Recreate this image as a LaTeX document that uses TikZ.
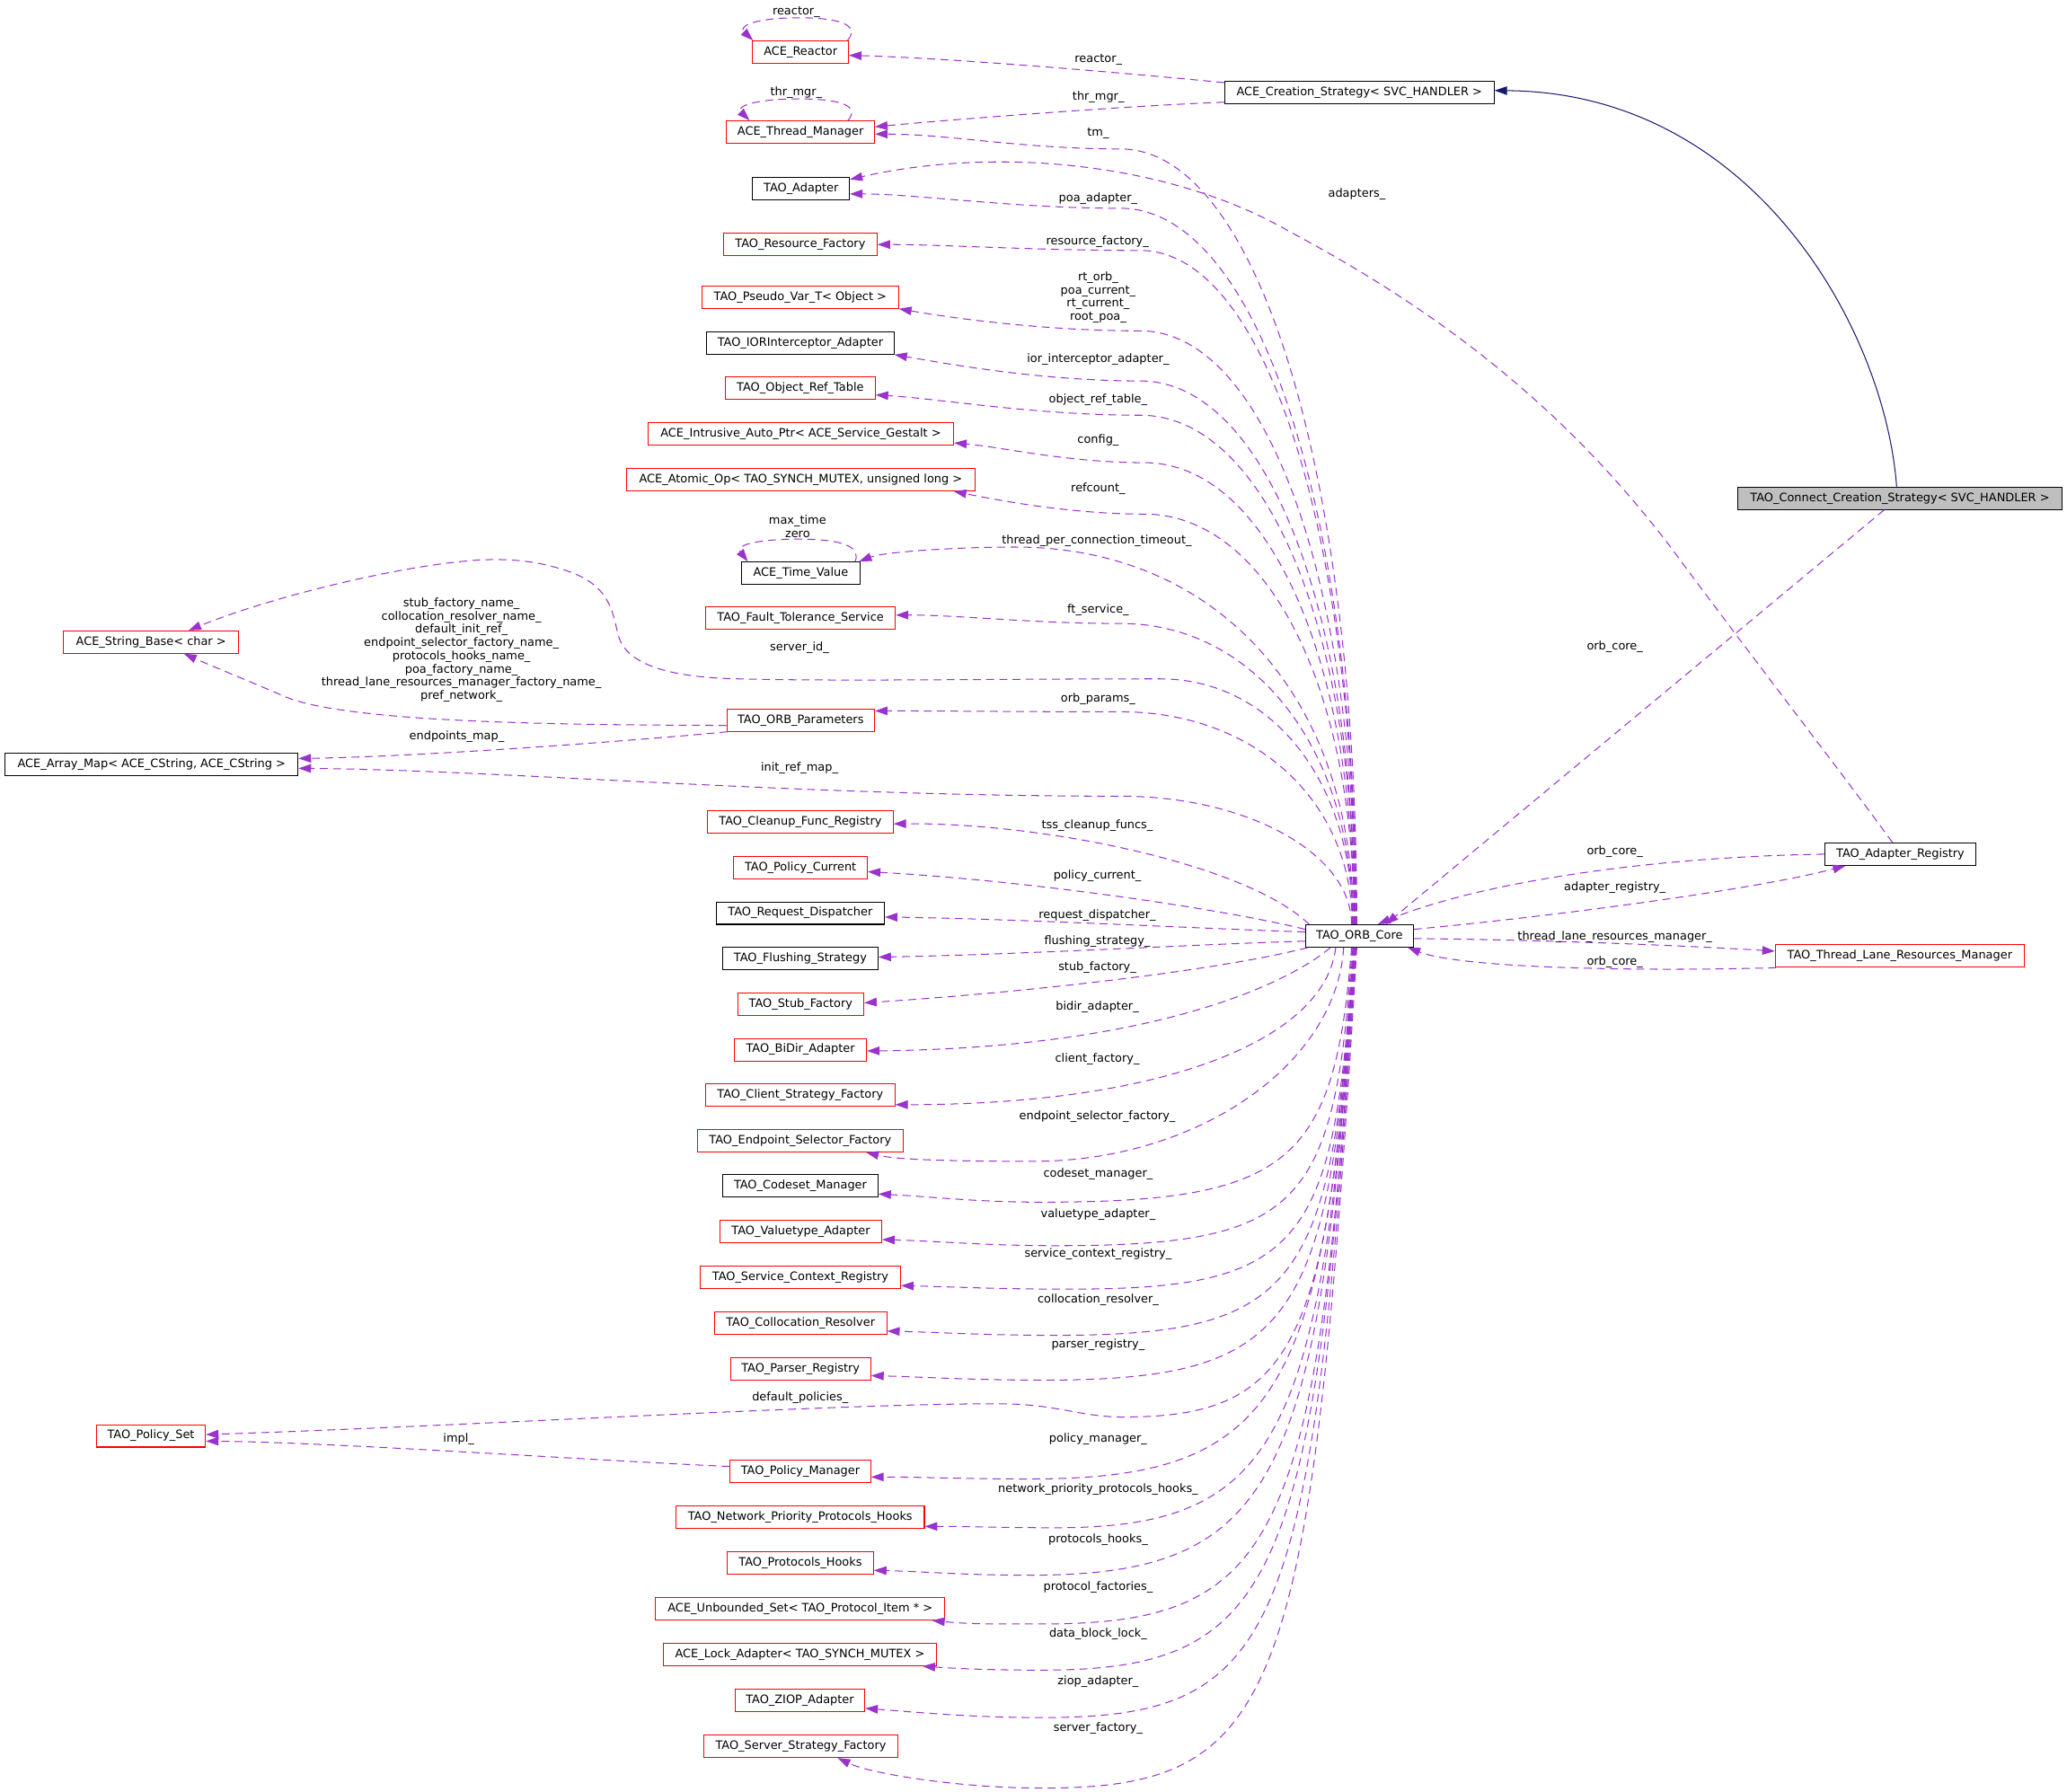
\documentclass[tikz,border=0pt]{standalone}
\usepackage{fontspec}
\setmainfont{DejaVu Sans}
\usetikzlibrary{arrows.meta,calc}
\definecolor{edgep}{HTML}{9A32CD}
\definecolor{inhc}{HTML}{191970}
\definecolor{clsred}{HTML}{FF0000}
\definecolor{grayf}{HTML}{BFBFBF}
% #1 anchor, #2 offset, #3 arm point L, #4 boxiness k, #5 slant, #6 control near E, #7 end E
\newcommand\dfan[7]{%
  \coordinate (fS) at ($(#1)+(#2,0)$);
  \coordinate (fL) at #3;
  \coordinate (fK) at ($(fS|-fL)+(-#5,0)$);
  \coordinate (fE) at #7;
  \draw[uses] (fS) .. controls ($(fS)!#4!(fK)$) and ($(fL)!#4!(fK)$) .. (fL)
     .. controls ($(fL)!0.4!(fL-|fE)$) and #6 .. (fE);
}
\begin{document}
\begin{tikzpicture}[x=1pt,y=-1pt,
  cls/.style={draw=black, line width=0.7pt, minimum height=17pt, inner xsep=2pt, inner ysep=0pt,
     text height=6.6pt, text depth=2pt, font=\fontsize{8.8}{10}\selectfont},
  redc/.style={cls, draw=clsred},
  uses/.style={draw=edgep, line width=0.7pt, dash pattern=on 6pt off 4pt,
     -{Triangle[length=9.5pt,width=6.5pt]}},
  inh/.style={draw=inhc, line width=0.7pt, -{Triangle[length=9.5pt,width=6.5pt]}},
  lbl/.style={inner sep=0pt, font=\fontsize{8.8}{10}\selectfont, text height=6.6pt, text depth=2pt},
  lblm/.style={inner sep=0pt, align=center, font=\fontsize{8.8}{10}\selectfont}
]
\fill[white] (0,0) rectangle (1568,1359);
\useasboundingbox (0,0) rectangle (1568,1359);

% ---------- nodes ----------
\node[redc, minimum width=72.6pt] (reactor) at (607.3,39.5) {ACE\_Reactor};
\node[redc, minimum width=112.3pt] (tmgr) at (607.25,100.2) {ACE\_Thread\_Manager};
\node[cls, minimum width=73.4pt] (tadapter) at (607.7,143.1) {TAO\_Adapter};
\node[redc, minimum width=116.4pt] (resf) at (607.1,185.5) {TAO\_Resource\_Factory};
\node[redc, minimum width=149.1pt] (pseudo) at (607.05,225.4) {TAO\_Pseudo\_Var\_T< Object >};
\node[cls, minimum width=142.2pt] (ior) at (607.1,260.2) {TAO\_IORInterceptor\_Adapter};
\node[redc, minimum width=113.6pt] (objref) at (607.1,294.6) {TAO\_Object\_Ref\_Table};
\node[redc, minimum width=231.9pt] (intr) at (607.45,329) {ACE\_Intrusive\_Auto\_Ptr< ACE\_Service\_Gestalt >};
\node[redc, minimum width=264.5pt] (atomic) at (607.45,363.9) {ACE\_Atomic\_Op< TAO\_SYNCH\_MUTEX, unsigned long >};
\node[cls, minimum width=89.9pt] (timev) at (607.45,434.8) {ACE\_Time\_Value};
\node[redc, minimum width=143.9pt] (fts) at (607.25,468.6) {TAO\_Fault\_Tolerance\_Service};
\node[redc, minimum width=132.6pt] (strb) at (114.6,487.1) {ACE\_String\_Base< char >};
\node[redc, minimum width=112.1pt] (orbp) at (607.35,546.3) {TAO\_ORB\_Parameters};
\node[cls, minimum width=222.2pt] (amap) at (115,579.9) {ACE\_Array\_Map< ACE\_CString, ACE\_CString >};
\node[redc, minimum width=140.8pt] (cleanup) at (607.1,623.5) {TAO\_Cleanup\_Func\_Registry};
\node[redc, minimum width=101.5pt] (polcur) at (607.25,658.3) {TAO\_Policy\_Current};
\node[cls, minimum width=127.6pt] (reqd) at (607.1,692.7) {TAO\_Request\_Dispatcher};
\node[cls, minimum width=117.8pt] (flush) at (607.1,727.1) {TAO\_Flushing\_Strategy};
\node[redc, minimum width=95.6pt] (stub) at (607.4,761.8) {TAO\_Stub\_Factory};
\node[redc, minimum width=100.1pt] (bidir) at (607.25,796.3) {TAO\_BiDir\_Adapter};
\node[redc, minimum width=143.5pt] (clientf) at (607.05,830.7) {TAO\_Client\_Strategy\_Factory};
\node[redc, minimum width=156.1pt] (endpf) at (607.05,865.4) {TAO\_Endpoint\_Selector\_Factory};
\node[cls, minimum width=117.7pt] (codeset) at (607.15,899.8) {TAO\_Codeset\_Manager};
\node[redc, minimum width=122.6pt] (valt) at (607.5,934.4) {TAO\_Valuetype\_Adapter};
\node[redc, minimum width=151.9pt] (servc) at (607.15,969.3) {TAO\_Service\_Context\_Registry};
\node[redc, minimum width=130.6pt] (colres) at (607.3,1003.8) {TAO\_Collocation\_Resolver};
\node[redc, minimum width=106.4pt] (parser) at (607.3,1038.6) {TAO\_Parser\_Registry};
\node[redc, minimum width=82.8pt] (polset) at (114.5,1089.3) {TAO\_Policy\_Set};
\node[redc, minimum width=106.7pt] (polman) at (607.15,1116.5) {TAO\_Policy\_Manager};
\node[redc, minimum width=188.4pt] (netp) at (607,1151) {TAO\_Network\_Priority\_Protocols\_Hooks};
\node[redc, minimum width=110.9pt] (proth) at (607.15,1185.8) {TAO\_Protocols\_Hooks};
\node[redc, minimum width=219.6pt] (unbset) at (607,1220.5) {ACE\_Unbounded\_Set< TAO\_Protocol\_Item * >};
\node[redc, minimum width=207.4pt] (lockad) at (606.8,1255.2) {ACE\_Lock\_Adapter< TAO\_SYNCH\_MUTEX >};
\node[redc, minimum width=98.4pt] (ziop) at (606.8,1290) {TAO\_ZIOP\_Adapter};
\node[redc, minimum width=147pt] (servf) at (607.5,1324.8) {TAO\_Server\_Strategy\_Factory};
\node[cls, minimum width=204.4pt] (creation) at (1031.2,70.2) {ACE\_Creation\_Strategy< SVC\_HANDLER >};
\node[cls, fill=grayf, minimum width=245.7pt] (connect) at (1441.25,378) {TAO\_Connect\_Creation\_Strategy< SVC\_HANDLER >};
\node[cls, minimum width=81.7pt] (core) at (1031.25,710) {TAO\_ORB\_Core};
\node[cls, minimum width=114.6pt] (reg) at (1441.6,648) {TAO\_Adapter\_Registry};
\node[redc, minimum width=188.9pt] (tlrm) at (1441.15,725.3) {TAO\_Thread\_Lane\_Resources\_Manager};

% ---------- inheritance ----------
\draw[inh] ($(connect.north)+(-2.5,0)$) .. controls (1430,250) and (1330,70) .. ($(creation.east)+(0,-1.5)$);

% ---------- edges from ACE_Creation_Strategy ----------
\draw[uses] ($(creation.west)+(0,-7.5)$) .. controls (850,55) and (720,44) .. ($(reactor.east)+(0,2.5)$);
\draw[uses] ($(creation.south west)+(0,-1.5)$) .. controls (860,80) and (730,90) .. ($(tmgr.east)+(0,-4)$);

% ---------- self loops ----------
\draw[uses] ($(reactor.north east)+(-1,0)$) .. controls (652,20) and (640,13.5) .. (606,13.5)
   .. controls (572,13.5) and (560,20) .. ($(reactor.north west)+(0.5,0)$);
\draw[uses] ($(tmgr.north east)+(-20.4,0)$) .. controls (652,81) and (640,75) .. (606,75)
   .. controls (572,75) and (558,81) .. ($(tmgr.north west)+(17.9,0)$);
\draw[uses] ($(timev.north east)+(-4,0)$) .. controls (653,415) and (640,409) .. (606,409)
   .. controls (572,409) and (558,414) .. ($(timev.north west)+(5.1,0)$);

% ---------- adapters_ ----------
\draw[uses] ($(reg.north)+(-6,0)$) .. controls (1400,590) and (1330,500) .. (1268,416)
   .. controls (1180,300) and (1080,230) .. (977,175)
   .. controls (890,125) and (760,110) .. ($(tadapter.east)+(0,-7)$);

% ---------- upper fan from TAO_ORB_Core ----------
\dfan{core.north}{-2}{(850,113)}{0.58}{0}{($(fE)+(55,0)$)}{($(tmgr.east)+(0,1.5)$)}
\dfan{core.north}{-2.5}{(850,158)}{0.58}{0}{($(fE)+(50,0)$)}{($(tadapter.east)+(0,4)$)}
\dfan{core.north}{-3}{(865,190)}{0.58}{0}{($(fE)+(50,0)$)}{(resf.east)}
\dfan{core.north}{-3}{(865,251)}{0.58}{0}{($(fE)+(40,7)$)}{(pseudo.south east)}
\dfan{core.north}{-3.5}{(865,289)}{0.58}{0}{($(fE)+(40,7)$)}{(ior.south east)}
\dfan{core.north}{-3.5}{(865,315)}{0.58}{0}{($(fE)+(50,3)$)}{($(objref.east)+(0,5)$)}
\dfan{core.north}{-4}{(868,351)}{0.58}{0}{($(fE)+(35,3)$)}{($(intr.east)+(0,7)$)}
\dfan{core.north}{-4}{(868,390)}{0.58}{0}{($(fE)+(30,6)$)}{($(atomic.south east)+(-16.5,0)$)}
\dfan{core.north}{-4.5}{(770,415)}{0.6}{0}{($(fE)+(18,-7)$)}{($(timev.north east)+(-1,0)$)}
\dfan{core.north}{-5}{(850,473)}{0.58}{0}{($(fE)+(50,0)$)}{($(fts.east)+(0,-2)$)}
\draw[uses] ($(core.north)+(-5,0)$) .. controls (1026.25,593) and (965,515) .. (880,515)
   .. controls (750,515) and (640,517) .. (560,515)
   .. controls (510,514) and (478,505) .. (470,485)
   .. controls (465,470) and (466,450) .. (440,437)
   .. controls (415,426) and (385,422) .. (350,426)
   .. controls (290,432) and (200,455) .. ($(strb.north)+(28.5,0)$);
\dfan{core.north}{-5.5}{(850,540)}{0.58}{0}{($(fE)+(50,0)$)}{($(orbp.east)+(0,-7)$)}
\dfan{core.north}{-6}{(850,604)}{0.55}{0}{($(fE)+(150,1)$)}{($(amap.east)+(0,3)$)}

% ---------- edges at the left side of TAO_ORB_Core ----------
\draw[uses] ($(core.north west)+(3,0)$) .. controls (945,655) and (790,624) .. ($(cleanup.east)+(0,1.5)$);
\draw[uses] ($(core.west)+(0,-5)$) .. controls (930,690) and (780,668) .. ($(polcur.east)+(0,3)$);
\draw[uses] ($(core.west)+(0,-3)$) .. controls (900,704) and (770,697) .. ($(reqd.east)+(0,3)$);
\draw[uses] ($(core.west)+(0,4)$) .. controls (915,716) and (780,724) .. ($(flush.east)+(0,-1)$);
\draw[uses] ($(core.south west)+(2,0)$) .. controls (930,735) and (790,752) .. ($(stub.east)+(0,-1)$);
\draw[uses] ($(core.south)+(-22,0)$) .. controls (975,748) and (870,795) .. ($(bidir.east)+(0,1)$);
\draw[uses] ($(core.south)+(-18,0)$) .. controls (1005,790) and (880,838) .. ($(clientf.south east)+(0,-1.5)$);

% ---------- lower fan ----------
\dfan{core.south}{-12}{(784,881)}{0.55}{10}{($(fE)+(25,6)$)}{($(endpf.south)+(50,0)$)}
\dfan{core.south}{-6}{(790,912)}{0.85}{15}{($(fE)+(40,2)$)}{($(codeset.east)+(0,6)$)}
\dfan{core.south}{-5.5}{(800,945)}{0.88}{15}{($(fE)+(40,1)$)}{($(valt.east)+(0,6)$)}
\dfan{core.south}{-5}{(810,978)}{0.88}{15}{($(fE)+(40,1)$)}{($(servc.east)+(0,6)$)}
\dfan{core.south}{-4.5}{(800,1013)}{0.88}{18}{($(fE)+(40,1)$)}{($(colres.east)+(0,6)$)}
\dfan{core.south}{-4.5}{(790,1047)}{0.88}{20}{($(fE)+(40,1)$)}{($(parser.east)+(0,5)$)}
\draw[uses] ($(core.south)+(-4,0)$) .. controls (1008.55,1021.5) and (982.3,1075) .. (852,1075)
   .. controls (820,1075) and (800,1065) .. (760,1065)
   .. controls (650,1064) and (350,1082) .. ($(polset.east)+(0,-1)$);
\dfan{core.south}{-4}{(780,1122)}{0.85}{25}{($(fE)+(40,0)$)}{($(polman.east)+(0,4)$)}
\dfan{core.south}{-3.5}{(800,1159)}{0.85}{28}{($(fE)+(40,0)$)}{($(netp.east)+(0,7)$)}
\dfan{core.south}{-3.5}{(780,1195)}{0.86}{30}{($(fE)+(40,1)$)}{($(proth.east)+(0,5.5)$)}
\dfan{core.south}{-3}{(790,1232)}{0.88}{32}{($(fE)+(30,3)$)}{($(unbset.south east)+(-10,0)$)}
\dfan{core.south}{-3}{(790,1267)}{0.88}{34}{($(fE)+(30,2)$)}{($(lockad.south east)+(-11,0)$)}
\dfan{core.south}{-2.5}{(790,1303)}{0.9}{36}{($(fE)+(40,3)$)}{($(ziop.east)+(0,6)$)}
\dfan{core.south}{-2}{(790,1356.5)}{0.9}{38}{($(fE)+(25,12)$)}{($(servf.south)+(28,0)$)}

% ---------- other left edges ----------
\draw[uses] ($(polman.west)+(0,-4)$) .. controls (450,1108) and (250,1094) .. ($(polset.east)+(0,4)$);
\draw[uses] ($(orbp.south west)+(1,0)$) .. controls (480,562) and (320,574) .. ($(amap.east)+(0,-4.5)$);
\draw[uses] ($(orbp.west)+(0,4)$) .. controls (420,550) and (260,548) .. (215,528)
   .. controls (185,515) and (160,505) .. ($(strb.south)+(25,0)$);

% ---------- right side ----------
\draw[uses] ($(connect.south)+(-12,0)$) -- ($(core.north)+(20,0)$);
\draw[uses] (reg.west) .. controls (1250,650) and (1120,670) .. ($(core.north)+(14,0)$);
\draw[uses] ($(core.east)+(0,-5)$) .. controls (1180,695) and (1330,675) .. ($(reg.south west)+(16,0)$);
\draw[uses] ($(core.east)+(0,2)$) .. controls (1180,713) and (1290,718) .. ($(tlrm.west)+(0,-3.7)$);
\draw[uses] ($(tlrm.south west)+(1,0)$) .. controls (1250,737) and (1110,735) .. ($(core.south east)+(-4.5,0)$);

% ---------- labels ----------
\node[lbl] (t1) at (604,9.1) {reactor\_};
\node[lbl] (t2) at (833.2,45.4) {reactor\_};
\node[lbl] (t3) at (604,70.4) {thr\_mgr\_};
\node[lbl] (t4) at (833.2,73.8) {thr\_mgr\_};
\node[lbl] (t5) at (833,101) {tm\_};
\node[lbl] (t6) at (1029.3,147.2) {adapters\_};
\node[lbl] (t7) at (833,151) {poa\_adapter\_};
\node[lbl] (t8) at (832.5,183.5) {resource\_factory\_};
\node[lblm] (t9) at (833,225.7) {rt\_orb\_\\poa\_current\_\\rt\_current\_\\root\_poa\_};
\node[lbl] (t10) at (833,272.6) {ior\_interceptor\_adapter\_};
\node[lbl] (t11) at (833,303) {object\_ref\_table\_};
\node[lbl] (t12) at (833,334.3) {config\_};
\node[lbl] (t13) at (833,371) {refcount\_};
\node[lblm] (t14) at (605,399.3) {max\_time\\zero};
\node[lbl] (t15) at (832,410.4) {thread\_per\_connection\_timeout\_};
\node[lbl] (t16) at (833,462.5) {ft\_service\_};
\node[lblm] (t17) at (350,493.1) {stub\_factory\_name\_\\collocation\_resolver\_name\_\\default\_init\_ref\_\\endpoint\_selector\_factory\_name\_\\protocols\_hooks\_name\_\\poa\_factory\_name\_\\thread\_lane\_resources\_manager\_factory\_name\_\\pref\_network\_};
\node[lbl] (t18) at (606.5,491.3) {server\_id\_};
\node[lbl] (t19) at (833,530) {orb\_params\_};
\node[lbl] (t20) at (346.5,558.8) {endpoints\_map\_};
\node[lbl] (t21) at (606.5,582.6) {init\_ref\_map\_};
\node[lbl] (t22) at (832.4,626.2) {tss\_cleanup\_funcs\_};
\node[lbl] (t23) at (832.4,664.4) {policy\_current\_};
\node[lbl] (t24) at (832.4,694.4) {request\_dispatcher\_};
\node[lbl] (t25) at (832.4,714) {flushing\_strategy\_};
\node[lbl] (t26) at (832.4,733.9) {stub\_factory\_};
\node[lbl] (t27) at (832.4,763.9) {bidir\_adapter\_};
\node[lbl] (t28) at (832.4,803.4) {client\_factory\_};
\node[lbl] (t29) at (832.4,846.8) {endpoint\_selector\_factory\_};
\node[lbl] (t30) at (833,891) {codeset\_manager\_};
\node[lbl] (t31) at (833,921.3) {valuetype\_adapter\_};
\node[lbl] (t32) at (833,951.4) {service\_context\_registry\_};
\node[lbl] (t33) at (833,986.2) {collocation\_resolver\_};
\node[lbl] (t34) at (833,1020.5) {parser\_registry\_};
\node[lbl] (t35) at (607,1060.5) {default\_policies\_};
\node[lbl] (t36) at (348,1091.5) {impl\_};
\node[lbl] (t37) at (833,1092) {policy\_manager\_};
\node[lbl] (t38) at (833,1130) {network\_priority\_protocols\_hooks\_};
\node[lbl] (t39) at (833,1167.9) {protocols\_hooks\_};
\node[lbl] (t40) at (833,1204.3) {protocol\_factories\_};
\node[lbl] (t41) at (833,1239.7) {data\_block\_lock\_};
\node[lbl] (t42) at (833,1275.5) {ziop\_adapter\_};
\node[lbl] (t43) at (833,1311) {server\_factory\_};
\node[lbl] (t44) at (1225,491) {orb\_core\_};
\node[lbl] (t45) at (1225,646.2) {orb\_core\_};
\node[lbl] (t46) at (1225,673.5) {adapter\_registry\_};
\node[lbl] (t47) at (1225,711) {thread\_lane\_resources\_manager\_};
\node[lbl] (t48) at (1225,730) {orb\_core\_};
\end{tikzpicture}
\end{document}
